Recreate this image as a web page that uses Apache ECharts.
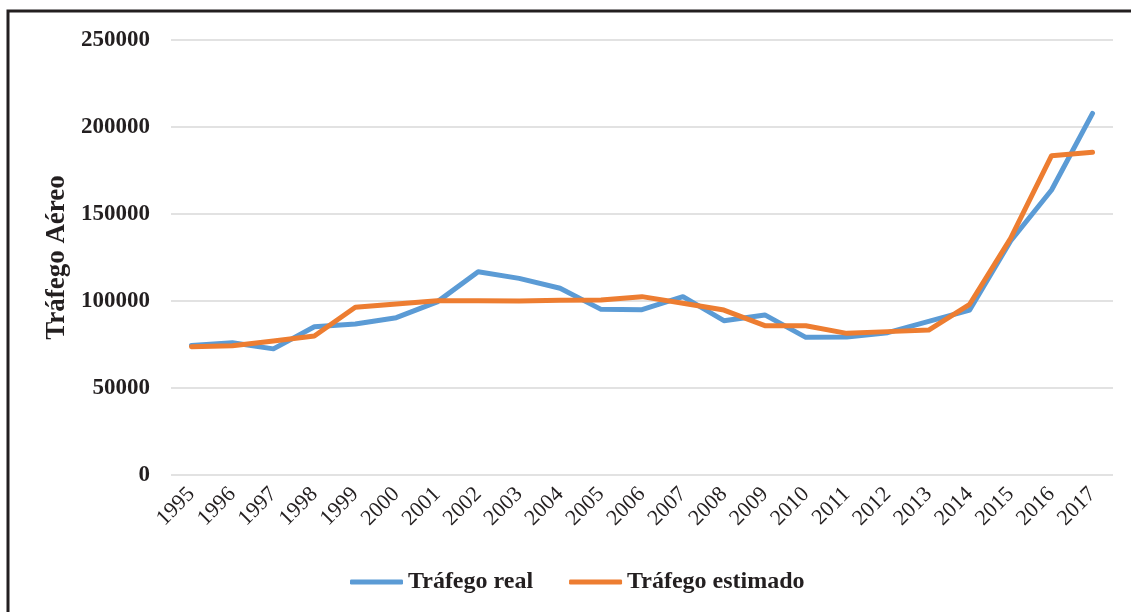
<!DOCTYPE html>
<html>
<head>
<meta charset="utf-8">
<script src="https://cdn.jsdelivr.net/npm/echarts@6/dist/echarts.min.js"></script>
<style>
  html, body { margin: 0; padding: 0; background: #fff; }
  #chart { width: 1131px; height: 612px; }
</style>
</head>
<body>
<div id="chart"></div>
<script>
// anos
var years = ["1995", "1996", "1997", "1998", "1999", "2000", "2001", "2002", "2003", "2004", "2005", "2006",
  "2007", "2008", "2009", "2010", "2011", "2012", "2013", "2014", "2015", "2016", "2017"];
// Tráfego real
var trafegoReal = [74500, 76000, 72500, 85200, 86800, 90400, 99500, 116800, 113000, 107300, 95200, 95000,
  102500, 88700, 92000, 79100, 79300, 81800, 88300, 94800, 134500, 163800, 207800];
// Tráfego estimado
var trafegoEstimado = [73700, 74300, 77000, 79900, 96400, 98300, 100200, 100200, 100000, 100400, 100600, 102500,
  98700, 94800, 85800, 85800, 81400, 82400, 83300, 98100, 136000, 183500, 185500];

var serif = "'Liberation Serif', 'DejaVu Serif', serif";
var myChart = echarts.init(document.getElementById("chart"));

myChart.setOption({
  animation: false,
  backgroundColor: "#fff",
  graphic: [
    {
      type: "polyline",
      shape: { points: [[8, 612], [8, 11], [1131, 11]] },
      style: { stroke: "#231f20", lineWidth: 3, fill: null }
    }
  ],
  grid: { left: 171, right: 18, top: 40, bottom: 137 },
  legend: {
    bottom: 13,
    left: 345,
    itemWidth: 53,
    itemHeight: 5,
    itemGap: 36,
    icon: "roundRect",
    textStyle: { fontFamily: serif, fontWeight: "bold", fontSize: 24, color: "#231f20" },
    data: ["Tráfego real", "Tráfego estimado"]
  },
  xAxis: {
    type: "category",
    data: years,
    boundaryGap: true,
    axisLine: { show: false },
    axisTick: { show: false },
    axisLabel: {
      rotate: 45,
      margin: 16,
      fontFamily: serif,
      fontSize: 22,
      color: "#231f20"
    }
  },
  yAxis: {
    type: "value",
    min: 0,
    max: 250000,
    interval: 50000,
    name: "Tráfego Aéreo",
    nameLocation: "middle",
    nameGap: 89,
    nameTextStyle: { fontFamily: serif, fontWeight: "bold", fontSize: 27, color: "#231f20" },
    axisLine: { show: false },
    axisTick: { show: false },
    axisLabel: {
      margin: 21,
      fontFamily: serif,
      fontWeight: "bold",
      fontSize: 23,
      color: "#231f20",
      formatter: function (v) { return String(v); }
    },
    splitLine: { lineStyle: { color: "#d9d9d9", width: 1.5 } }
  },
  series: [
    {
      name: "Tráfego real",
      type: "line",
      data: trafegoReal,
      symbol: "none",
      lineStyle: { color: "#5b9bd5", width: 5, cap: "round", join: "round" },
      itemStyle: { color: "#5b9bd5" }
    },
    {
      name: "Tráfego estimado",
      type: "line",
      data: trafegoEstimado,
      symbol: "none",
      lineStyle: { color: "#ed7d31", width: 5, cap: "round", join: "round" },
      itemStyle: { color: "#ed7d31" }
    }
  ]
});
</script>
</body>
</html>
